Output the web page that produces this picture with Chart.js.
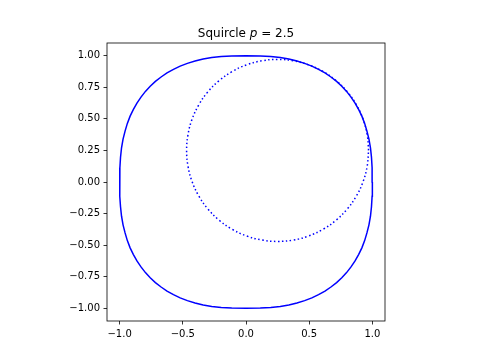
<!DOCTYPE html>
<html>
<head>
<meta charset="utf-8">
<script src="https://cdn.jsdelivr.net/npm/chart.js@4/dist/chart.umd.min.js"></script>
<style>
  html, body { margin: 0; padding: 0; background: #fff; }
  #wrap { position: relative; width: 480px; height: 360px; }
  #title { position: absolute; left: 0; width: 492px; top: 27px; text-align: center;
           font-family: "DejaVu Sans", sans-serif; font-size: 12px; line-height: 12px; color: #000; white-space: pre; }
  #title i { font-style: italic; }
</style>
</head>
<body>
<div id="wrap">
  <canvas id="c" width="480" height="360"></canvas>
  <div id="title">Squircle <i>p</i> = 2.5</div>
</div>
<script>
// Squircle (p = 2.5) outline
const squircleX = [
  1.000, 0.998, 0.993, 0.985, 0.973, 0.957, 0.939, 0.917, 0.891, 0.863, 0.831, 0.796, 0.758, 0.717, 0.672, 0.625, 0.574, 0.521, 0.464, 0.403, 0.339, 0.271, 0.196, 0.113, 0.000,
  -0.113, -0.196, -0.271, -0.339, -0.403, -0.464, -0.521, -0.574, -0.625, -0.672, -0.717, -0.758, -0.796, -0.831, -0.863, -0.891, -0.917, -0.939, -0.957, -0.973, -0.985, -0.993, -0.998, -1.000,
  -0.998, -0.993, -0.985, -0.973, -0.957, -0.939, -0.917, -0.891, -0.863, -0.831, -0.796, -0.758, -0.717, -0.672, -0.625, -0.574, -0.521, -0.464, -0.403, -0.339, -0.271, -0.196, -0.113, 0.000,
  0.113, 0.196, 0.271, 0.339, 0.403, 0.464, 0.521, 0.574, 0.625, 0.672, 0.717, 0.758, 0.796, 0.831, 0.863, 0.891, 0.917, 0.939, 0.957, 0.973, 0.985, 0.993, 0.998, 1.000];
const squircleY = [
  0.000, 0.113, 0.196, 0.271, 0.339, 0.403, 0.464, 0.521, 0.574, 0.625, 0.672, 0.717, 0.758, 0.796, 0.831, 0.863, 0.891, 0.917, 0.939, 0.957, 0.973, 0.985, 0.993, 0.998, 1.000,
  0.998, 0.993, 0.985, 0.973, 0.957, 0.939, 0.917, 0.891, 0.863, 0.831, 0.796, 0.758, 0.717, 0.672, 0.625, 0.574, 0.521, 0.464, 0.403, 0.339, 0.271, 0.196, 0.113, 0.000,
  -0.113, -0.196, -0.271, -0.339, -0.403, -0.464, -0.521, -0.574, -0.625, -0.672, -0.717, -0.758, -0.796, -0.831, -0.863, -0.891, -0.917, -0.939, -0.957, -0.973, -0.985, -0.993, -0.998, -1.000,
  -0.998, -0.993, -0.985, -0.973, -0.957, -0.939, -0.917, -0.891, -0.863, -0.831, -0.796, -0.758, -0.717, -0.672, -0.625, -0.574, -0.521, -0.464, -0.403, -0.339, -0.271, -0.196, -0.113, 0.000];

// Dotted circle
const circleX = [0.970, 0.959, 0.927, 0.874, 0.802, 0.713, 0.610, 0.496, 0.375, 0.250, 0.125, 0.004, -0.110, -0.213, -0.302, -0.374, -0.427, -0.459, -0.470,
  -0.459, -0.427, -0.374, -0.302, -0.213, -0.110, 0.004, 0.125, 0.250, 0.375, 0.496, 0.610, 0.713, 0.802, 0.874, 0.927, 0.959, 0.970];
const circleY = [0.250, 0.375, 0.496, 0.610, 0.713, 0.802, 0.874, 0.927, 0.959, 0.970, 0.959, 0.927, 0.874, 0.802, 0.713, 0.610, 0.496, 0.375, 0.250,
  0.125, 0.004, -0.110, -0.213, -0.302, -0.374, -0.427, -0.459, -0.470, -0.459, -0.427, -0.374, -0.302, -0.213, -0.110, 0.004, 0.125, 0.250];

const xTicks = [-1.0, -0.5, 0.0, 0.5, 1.0];
const yTicks = [-1.00, -0.75, -0.50, -0.25, 0.00, 0.25, 0.50, 0.75, 1.00];
const xTickLabels = ["\u22121.0", "\u22120.5", "0.0", "0.5", "1.0"];
const yTickLabels = ["\u22121.00", "\u22120.75", "\u22120.50", "\u22120.25", "0.00", "0.25", "0.50", "0.75", "1.00"];

const toPts = (xs, ys) => xs.map((x, i) => ({x: x, y: ys[i]}));

const frame = {
  id: 'frame',
  afterDraw(chart) {
    const a = chart.chartArea, ctx = chart.ctx;
    ctx.save();
    ctx.strokeStyle = '#000';
    ctx.lineWidth = 0.8;
    ctx.strokeRect(a.left, a.top, a.right - a.left, a.bottom - a.top);
    ctx.restore();
  }
};

const tickFont = {family: 'DejaVu Sans', size: 10};
const gridOpts = {drawOnChartArea: false, drawTicks: true, tickLength: 3.5, tickColor: '#000', tickWidth: 0.8};

new Chart(document.getElementById('c'), {
  type: 'scatter',
  data: {
    datasets: [
      {data: toPts(squircleX, squircleY), showLine: true, borderColor: '#0000ff', borderWidth: 1.5,
       pointRadius: 0, fill: false, tension: 0},
      {data: toPts(circleX, circleY), showLine: true, borderColor: '#0000ff', borderWidth: 1.5,
       borderDash: [1.5, 2.475], pointRadius: 0, fill: false, tension: 0.4}
    ]
  },
  options: {
    responsive: false, animation: false, devicePixelRatio: 1,
    layout: {padding: {left: 0, top: 43, right: 95, bottom: 0}},
    plugins: {legend: {display: false}, tooltip: {enabled: false}, title: {display: false}},
    scales: {
      x: {
        type: 'linear', min: -1.1, max: 1.1,
        afterFit(s) { s.height = 39; },
        afterBuildTicks(s) { s.ticks = xTicks.map(v => ({value: v})); },
        grid: gridOpts,
        border: {display: false},
        ticks: {color: '#000', font: tickFont, padding: 3.5, autoSkip: false, maxRotation: 0,
                callback: (v) => { const i = xTicks.indexOf(v); return i >= 0 ? xTickLabels[i] : ''; }}
      },
      y: {
        type: 'linear', min: -1.1, max: 1.1,
        afterFit(s) { s.width = 107; },
        afterBuildTicks(s) { s.ticks = yTicks.map(v => ({value: v})); },
        grid: gridOpts,
        border: {display: false},
        ticks: {color: '#000', font: tickFont, padding: 3.5, autoSkip: false,
                callback: (v) => { const i = yTicks.indexOf(v); return i >= 0 ? yTickLabels[i] : ''; }}
      }
    }
  },
  plugins: [frame]
});
</script>
</body>
</html>
